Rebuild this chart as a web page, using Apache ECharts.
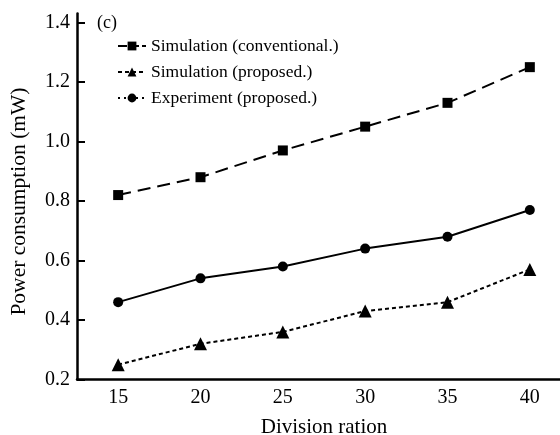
<!DOCTYPE html>
<html>
<head>
<meta charset="utf-8">
<script src="https://cdn.jsdelivr.net/npm/echarts@6/dist/echarts.min.js"></script>
<style>
  html, body { margin: 0; padding: 0; background: #fff; }
  #chart { width: 560px; height: 435px; }
</style>
</head>
<body>
<div id="chart"></div>
<script>
const divisionRatios = ['15', '20', '25', '30', '35', '40']
const simConventional = [0.82, 0.88, 0.97, 1.05, 1.13, 1.25]
const simProposed = [0.25, 0.32, 0.36, 0.43, 0.46, 0.57]
const expProposed = [0.46, 0.54, 0.58, 0.64, 0.68, 0.77]
const yTicks = [0.2, 0.4, 0.6, 0.8, 1.0, 1.2, 1.4]

const font = 'Liberation Serif'
const black = '#000'

const myChart = echarts.init(document.getElementById('chart'))

myChart.setOption({
    animation: false,
    backgroundColor: '#fff',
    textStyle: { fontFamily: font, color: black },
    title: {
        text: '(c)',
        left: 92,
        top: 9,
        textStyle: { fontFamily: font, fontSize: 18, fontWeight: 'normal', color: black }
    },
    legend: {
        orient: 'vertical',
        left: 112,
        top: 31,
        itemWidth: 28,
        itemHeight: 11,
        itemGap: 6,
        textStyle: { fontFamily: font, fontSize: 17.5, color: black, lineHeight: 20 },
        data: [
            { name: 'Simulation (conventional.)', lineStyle: { type: [9, 3] } },
            { name: 'Simulation (proposed.)', lineStyle: { type: [4, 3] } },
            { name: 'Experiment (proposed.)', lineStyle: { type: [2, 4] } }
        ]
    },
    grid: {
        left: 77,
        right: -11,
        top: 13.6,
        bottom: 55.5,
        outerBoundsMode: 'none'
    },
    xAxis: {
        type: 'category',
        data: divisionRatios,
        boundaryGap: true,
        name: 'Division ration',
        nameLocation: 'middle',
        nameGap: 37,
        nameTextStyle: { fontFamily: font, fontSize: 21, color: black },
        axisLine: { lineStyle: { color: black, width: 2.5 } },
        axisTick: { inside: true, length: 10, alignWithLabel: true, lineStyle: { color: black, width: 2 } },
        axisLabel: { fontFamily: font, fontSize: 20, color: black, margin: 8 },
        splitLine: { show: false }
    },
    yAxis: {
        type: 'value',
        min: 0.2,
        max: 1.43,
        name: 'Power consumption (mW)',
        nameLocation: 'middle',
        nameGap: 47,
        nameTextStyle: { fontFamily: font, fontSize: 21.5, color: black, padding: [0, 0, 0, -10] },
        axisLine: { show: true, lineStyle: { color: black, width: 2.5 } },
        axisTick: { show: true, inside: true, length: 8, customValues: yTicks, lineStyle: { color: black, width: 2 } },
        axisLabel: {
            fontFamily: font, fontSize: 20, color: black, margin: 7,
            customValues: yTicks,
            formatter: v => v.toFixed(1)
        },
        splitLine: { show: false }
    },
    series: [
        {
            name: 'Simulation (conventional.)',
            type: 'line',
            data: simConventional,
            symbol: 'rect',
            symbolSize: 10,
            itemStyle: { color: black },
            lineStyle: { color: black, width: 2, type: [13, 7] }
        },
        {
            name: 'Simulation (proposed.)',
            type: 'line',
            data: simProposed,
            symbol: 'triangle',
            symbolSize: 13,
            itemStyle: { color: black },
            lineStyle: { color: black, width: 2, type: [4, 3] }
        },
        {
            name: 'Experiment (proposed.)',
            type: 'line',
            data: expProposed,
            symbol: 'circle',
            symbolSize: 10,
            itemStyle: { color: black },
            lineStyle: { color: black, width: 2, type: 'solid' }
        }
    ]
})
</script>
</body>
</html>
